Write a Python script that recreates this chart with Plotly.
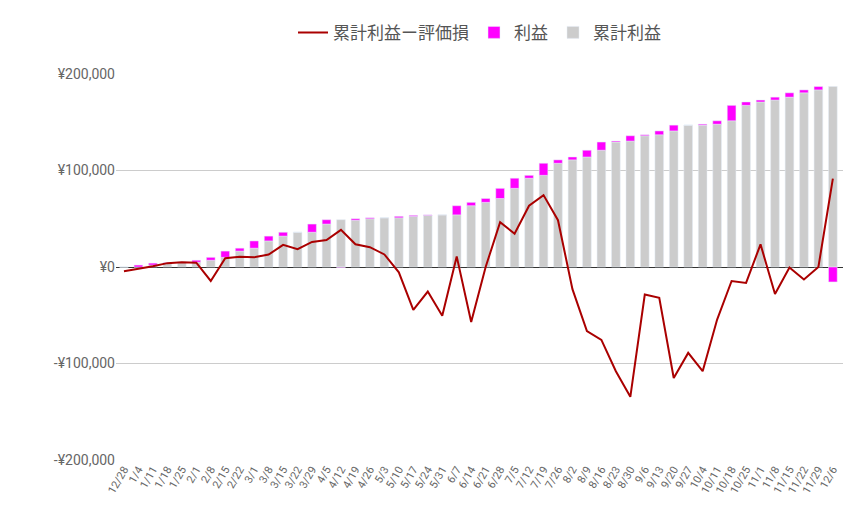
import plotly.graph_objects as go

weeks = ["12/28", "1/4", "1/11", "1/18", "1/25", "2/1", "2/8", "2/15", "2/22", "3/1",
         "3/8", "3/15", "3/22", "3/29", "4/5", "4/12", "4/19", "4/26", "5/3", "5/10",
         "5/17", "5/24", "5/31", "6/7", "6/14", "6/21", "6/28", "7/5", "7/12", "7/19",
         "7/26", "8/2", "8/9", "8/16", "8/23", "8/30", "9/6", "9/13", "9/20", "9/27",
         "10/4", "10/11", "10/18", "10/25", "11/1", "11/8", "11/15", "11/22", "11/29", "12/6"]

# cumulative profit up to previous week (gray)
cum_profit = [0, 0, 2000, 4000, 5000, 5000, 7000, 10000, 16500, 19500,
              27000, 32000, 36000, 36000, 44500, 49000, 48500, 50000, 51000, 51000,
              52500, 53500, 54000, 54000, 63500, 67000, 71000, 81500, 92000, 95000,
              107500, 111000, 114000, 121000, 129500, 130500, 136000, 137000, 141000, 147000,
              147000, 148000, 151500, 167500, 171000, 173000, 176000, 180500, 183500, 187000]

# profit of the week (magenta)
profit = [0, 2000, 2000, 500, 0, 2000, 3000, 6500, 3000, 7500,
          5000, 4000, 0, 8500, 4500, -500, 1500, 1000, 0, 1500,
          1000, 500, 0, 9500, 3500, 4000, 10500, 10500, 3000, 12500,
          3500, 3000, 7000, 8500, 1000, 5500, 1000, 4000, 6000, 0,
          1000, 3500, 16000, 3500, 2000, 3000, 4500, 3000, 3500, -15500]

# cumulative profit minus unrealized loss (line)
net = [-4500, -2000, 700, 4000, 5000, 4500, -14500, 9000, 10500, 10000,
       13000, 23000, 18500, 26000, 28000, 38500, 23500, 20500, 13000, -5500,
       -44500, -25500, -50500, 11000, -57000, 0, 46500, 34500, 63500, 74500,
       48500, -23000, -66500, -75500, -108000, -134500, -28500, -32000, -115000, -89000,
       -108000, -54500, -14500, -16500, 23500, -28000, -500, -13000, 0, 91500]

fig = go.Figure()
fig.add_trace(go.Bar(x=weeks, y=cum_profit, name="累計利益", marker_color="#cccccc",
                     width=0.6, legendrank=3))
fig.add_trace(go.Bar(x=weeks, y=profit, name="利益", marker_color="#ff00ff",
                     width=0.6, legendrank=2))
fig.add_trace(go.Scatter(x=weeks, y=net, name="累計利益ー評価損", mode="lines",
                         line=dict(color="#aa0000", width=2), legendrank=1))

fig.update_layout(
    width=853, height=508,
    barmode="relative",
    plot_bgcolor="white", paper_bgcolor="white",
    font=dict(family="Roboto, 'Noto Sans CJK JP', sans-serif", color="#555555"),
    margin=dict(l=108, r=18, t=66, b=56, autoexpand=False),
    showlegend=True,
    legend=dict(orientation="h", x=0.5, xanchor="center", y=1.06, yanchor="bottom",
                font=dict(size=17, color="#555555"), traceorder="normal"),
    xaxis=dict(tickangle=-60, tickfont=dict(size=11, color="#666666"), showgrid=False,
               ticks="", range=[-0.55, 49.7], automargin=False),
    yaxis=dict(range=[-200000, 200000], tickvals=[-200000, -100000, 0, 100000, 200000],
               ticktext=["-¥200,000", "-¥100,000", "¥0", "¥100,000", "¥200,000"],
               tickfont=dict(size=14, color="#666666"), gridcolor="#cccccc",
               automargin=False,
               zeroline=True, zerolinecolor="#333333", zerolinewidth=1),
)

fig.write_html("out.html")
